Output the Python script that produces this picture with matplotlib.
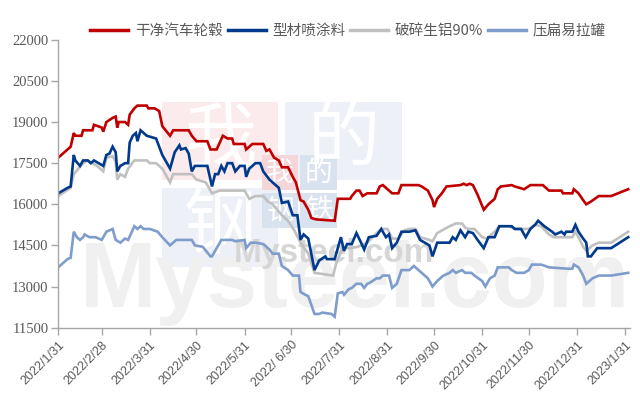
import numpy as np
import pandas as pd
import matplotlib
matplotlib.use('Agg')
import matplotlib.pyplot as plt
from matplotlib.patches import Rectangle

plt.rcParams['font.family'] = ['Liberation Serif', 'Noto Sans CJK SC', 'DejaVu Sans']

# 干净汽车轮毂
red_dates = ['2022-01-31', '2022-02-08', '2022-02-10', '2022-02-11', '2022-02-15', '2022-02-16', '2022-02-22',
             '2022-02-23', '2022-02-28', '2022-03-01', '2022-03-03', '2022-03-07', '2022-03-09', '2022-03-10',
             '2022-03-11', '2022-03-15', '2022-03-17', '2022-03-18', '2022-03-21', '2022-03-23', '2022-03-29',
             '2022-03-30', '2022-04-03', '2022-04-06', '2022-04-08', '2022-04-13', '2022-04-15', '2022-04-25',
             '2022-04-27', '2022-04-30', '2022-05-07', '2022-05-09', '2022-05-13', '2022-05-17', '2022-05-20',
             '2022-05-23', '2022-05-24', '2022-05-31', '2022-06-01', '2022-06-05', '2022-06-12', '2022-06-14',
             '2022-06-16', '2022-06-19', '2022-06-22', '2022-06-24', '2022-06-28', '2022-07-01', '2022-07-03',
             '2022-07-06', '2022-07-08', '2022-07-11', '2022-07-13', '2022-07-16', '2022-07-28', '2022-07-30',
             '2022-08-07', '2022-08-08', '2022-08-11', '2022-08-13', '2022-08-15', '2022-08-18', '2022-08-24',
             '2022-08-26', '2022-08-28', '2022-09-01', '2022-09-03', '2022-09-07', '2022-09-09', '2022-09-16',
             '2022-09-20', '2022-09-22', '2022-09-26', '2022-09-29', '2022-09-30', '2022-10-02', '2022-10-05',
             '2022-10-08', '2022-10-17', '2022-10-19', '2022-10-21', '2022-10-23', '2022-10-25', '2022-10-28',
             '2022-11-01', '2022-11-04', '2022-11-08', '2022-11-10', '2022-11-12', '2022-11-19', '2022-11-21',
             '2022-11-27', '2022-12-01', '2022-12-09', '2022-12-13', '2022-12-21', '2022-12-22', '2022-12-28',
             '2022-12-29', '2023-01-01', '2023-01-04', '2023-01-06', '2023-01-09', '2023-01-14', '2023-01-22',
             '2023-02-02']
red_vals = [17700, 18100, 18600, 18500, 18500, 18700, 18700,
            18900, 18800, 18650, 19000, 19150, 19200, 18800,
            19000, 19000, 18900, 19270, 19500, 19600, 19600,
            19500, 19500, 19400, 18850, 18500, 18700, 18700,
            18500, 18300, 18300, 18000, 18000, 18500, 18400,
            18400, 18200, 18200, 18000, 18200, 18200, 17950,
            18000, 17700, 17600, 17350, 17350, 17000, 16800,
            16150, 16100, 15800, 15500, 15450, 15400, 16200,
            16200, 16300, 16500, 16500, 16300, 16400, 16400,
            16650, 16700, 16500, 16400, 16400, 16700, 16700,
            16700, 16650, 16500, 16150, 15900, 16200, 16400,
            16650, 16700, 16750, 16700, 16750, 16700, 16350,
            15800, 16000, 16200, 16550, 16650, 16700, 16650,
            16550, 16700, 16700, 16500, 16500, 16400, 16400,
            16550, 16400, 16150, 16000, 16100, 16300, 16300,
            16550]

# 型材喷涂料
blue_dates = ['2022-01-31', '2022-02-06', '2022-02-08', '2022-02-10', '2022-02-11', '2022-02-14', '2022-02-16',
              '2022-02-19', '2022-02-21', '2022-02-23', '2022-02-26', '2022-03-01', '2022-03-03', '2022-03-05',
              '2022-03-07', '2022-03-09', '2022-03-10', '2022-03-12', '2022-03-15', '2022-03-17', '2022-03-18',
              '2022-03-20', '2022-03-22', '2022-03-23', '2022-03-25', '2022-03-27', '2022-03-29', '2022-04-04',
              '2022-04-06', '2022-04-08', '2022-04-13', '2022-04-15', '2022-04-16', '2022-04-19', '2022-04-20',
              '2022-04-23', '2022-04-25', '2022-04-27', '2022-04-29', '2022-05-07', '2022-05-10', '2022-05-12',
              '2022-05-14', '2022-05-16', '2022-05-18', '2022-05-20', '2022-05-23', '2022-05-25', '2022-05-28',
              '2022-05-31', '2022-06-01', '2022-06-03', '2022-06-07', '2022-06-10', '2022-06-12', '2022-06-16',
              '2022-06-19', '2022-06-22', '2022-06-24', '2022-06-28', '2022-07-01', '2022-07-04', '2022-07-06',
              '2022-07-08', '2022-07-11', '2022-07-15', '2022-07-18', '2022-07-22', '2022-07-23', '2022-07-28',
              '2022-07-30', '2022-08-01', '2022-08-03', '2022-08-05', '2022-08-08', '2022-08-11', '2022-08-14',
              '2022-08-16', '2022-08-19', '2022-08-24', '2022-08-27', '2022-08-30', '2022-09-01', '2022-09-03',
              '2022-09-06', '2022-09-09', '2022-09-14', '2022-09-18', '2022-09-21', '2022-09-24', '2022-09-27',
              '2022-09-29', '2022-10-02', '2022-10-10', '2022-10-12', '2022-10-14', '2022-10-17', '2022-10-20',
              '2022-10-22', '2022-10-25', '2022-10-28', '2022-11-01', '2022-11-04', '2022-11-08', '2022-11-11',
              '2022-11-19', '2022-11-21', '2022-11-25', '2022-11-28', '2022-12-01', '2022-12-04', '2022-12-06',
              '2022-12-10', '2022-12-15', '2022-12-17', '2022-12-21', '2022-12-23', '2022-12-24', '2022-12-28',
              '2022-12-30', '2023-01-01', '2023-01-04', '2023-01-06', '2023-01-07', '2023-01-09', '2023-01-13',
              '2023-01-22', '2023-02-02']
blue_vals = [16400, 16600, 16650, 17800, 17600, 17400, 17600,
             17600, 17500, 17600, 17500, 17400, 17800, 17850,
             18100, 17900, 17200, 17400, 17500, 17500, 18250,
             18500, 18600, 18300, 18700, 18600, 18500, 18400,
             18100, 17800, 17300, 17700, 17900, 18150, 18000,
             18050, 17850, 17200, 17400, 17400, 16650, 17100,
             17100, 17400, 17200, 17500, 17500, 17200, 17400,
             17400, 17000, 17300, 17500, 17500, 17200, 16900,
             16750, 16600, 16050, 16100, 15600, 15600, 14700,
             14900, 14750, 13600, 13950, 14100, 14000, 14000,
             14400, 14800, 14300, 14550, 14550, 14950, 14600,
             14350, 14800, 14850, 15100, 14800, 14900, 14400,
             14600, 15000, 15000, 15050, 14700, 14600, 14500,
             14100, 14600, 14600, 14800, 14700, 15050, 14800,
             15000, 14950, 14700, 14400, 14800, 14800, 15200,
             15200, 15100, 15100, 14800, 15100, 15250, 15400,
             15200, 15000, 14900, 15000, 14900, 15000, 15000,
             15250, 15000, 14750, 14600, 14100, 14100, 14400,
             14400, 14800]

# 破碎生铝90%
gray_dates = ['2022-01-31', '2022-02-08', '2022-02-10', '2022-02-13', '2022-02-16', '2022-02-19', '2022-02-22',
              '2022-02-25', '2022-03-01', '2022-03-03', '2022-03-07', '2022-03-09', '2022-03-10', '2022-03-12',
              '2022-03-15', '2022-03-17', '2022-03-21', '2022-03-29', '2022-03-31', '2022-04-04', '2022-04-08',
              '2022-04-13', '2022-04-15', '2022-04-27', '2022-04-30', '2022-05-06', '2022-05-10', '2022-05-15',
              '2022-05-31', '2022-06-03', '2022-06-07', '2022-06-12', '2022-06-15', '2022-06-18', '2022-06-21',
              '2022-06-24', '2022-06-28', '2022-07-02', '2022-07-06', '2022-07-11', '2022-07-15', '2022-07-21',
              '2022-07-27', '2022-07-29', '2022-08-02', '2022-08-07', '2022-08-12', '2022-08-18', '2022-08-24',
              '2022-08-27', '2022-08-31', '2022-09-03', '2022-09-07', '2022-09-11', '2022-09-14', '2022-09-18',
              '2022-09-21', '2022-09-27', '2022-09-29', '2022-10-02', '2022-10-10', '2022-10-14', '2022-10-18',
              '2022-10-20', '2022-10-22', '2022-10-26', '2022-10-31', '2022-11-03', '2022-11-06', '2022-11-08',
              '2022-11-11', '2022-11-17', '2022-11-21', '2022-11-30', '2022-12-04', '2022-12-08', '2022-12-13',
              '2022-12-16', '2022-12-28', '2022-12-30', '2023-01-01', '2023-01-04', '2023-01-06', '2023-01-10',
              '2023-01-14', '2023-01-22', '2023-02-02']
gray_vals = [16300, 16600, 17100, 17300, 17500, 17600, 17500,
             17400, 17200, 17700, 17750, 17550, 16900, 17100,
             17000, 17300, 17600, 17600, 17500, 17500, 17300,
             16800, 17100, 17100, 16900, 16800, 16400, 16500,
             16500, 16200, 16300, 16300, 16100, 16000, 15800,
             15600, 15400, 15050, 14600, 14200, 13500, 13450,
             13400, 13850, 14400, 14400, 14450, 14600, 14950,
             15100, 15100, 14750, 14750, 15050, 15100, 15100,
             14800, 14700, 14650, 14950, 15200, 15300, 15300,
             15150, 15100, 15100, 14800, 14750, 14900, 15000,
             15200, 15200, 15100, 15100, 15250, 15200, 14900,
             14800, 14800, 15000, 14800, 14450, 14300, 14500,
             14600, 14600, 15000]

# 压扁易拉罐
light_dates = ['2022-01-31', '2022-02-06', '2022-02-08', '2022-02-10', '2022-02-12', '2022-02-14', '2022-02-16',
               '2022-02-17', '2022-02-20', '2022-02-24', '2022-02-28', '2022-03-03', '2022-03-07', '2022-03-09',
               '2022-03-12', '2022-03-15', '2022-03-17', '2022-03-19', '2022-03-21', '2022-03-23', '2022-03-25',
               '2022-03-27', '2022-03-31', '2022-04-05', '2022-04-08', '2022-04-13', '2022-04-17', '2022-04-27',
               '2022-04-29', '2022-05-04', '2022-05-09', '2022-05-10', '2022-05-13', '2022-05-16', '2022-05-23',
               '2022-05-25', '2022-05-31', '2022-06-01', '2022-06-04', '2022-06-07', '2022-06-12', '2022-06-16',
               '2022-06-18', '2022-06-22', '2022-06-24', '2022-06-28', '2022-07-01', '2022-07-05', '2022-07-06',
               '2022-07-09', '2022-07-11', '2022-07-15', '2022-07-18', '2022-07-20', '2022-07-26', '2022-07-28',
               '2022-07-30', '2022-08-02', '2022-08-03', '2022-08-06', '2022-08-08', '2022-08-11', '2022-08-14',
               '2022-08-16', '2022-08-18', '2022-08-20', '2022-08-24', '2022-08-26', '2022-08-28', '2022-09-01',
               '2022-09-03', '2022-09-06', '2022-09-09', '2022-09-14', '2022-09-17', '2022-09-20', '2022-09-22',
               '2022-09-26', '2022-09-29', '2022-10-02', '2022-10-06', '2022-10-10', '2022-10-12', '2022-10-14',
               '2022-10-18', '2022-10-20', '2022-10-24', '2022-10-26', '2022-10-31', '2022-11-02', '2022-11-05',
               '2022-11-08', '2022-11-10', '2022-11-17', '2022-11-19', '2022-11-22', '2022-11-27', '2022-11-30',
               '2022-12-02', '2022-12-08', '2022-12-13', '2022-12-25', '2022-12-28', '2022-12-29', '2023-01-01',
               '2023-01-04', '2023-01-06', '2023-01-10', '2023-01-14', '2023-01-22', '2023-02-02']
light_vals = [13700, 14000, 14050, 15000, 14800, 14700, 14800,
              14900, 14800, 14800, 14700, 15000, 15100, 14700,
              14600, 14750, 14700, 14950, 15200, 15100, 15200,
              15100, 15100, 15000, 14800, 14500, 14700, 14700,
              14500, 14450, 14100, 14100, 14400, 14700, 14700,
              14650, 14700, 14400, 14600, 14600, 14550, 14350,
              14200, 14200, 13750, 13600, 13400, 13400, 12800,
              12700, 12650, 12000, 12000, 12050, 12000, 11900,
              12750, 12800, 12700, 12900, 12950, 13100, 13100,
              12950, 13100, 13150, 13300, 13300, 13400, 13400,
              12950, 13100, 13600, 13600, 13750, 13600, 13500,
              13300, 13000, 13200, 13400, 13500, 13600, 13500,
              13600, 13500, 13500, 13400, 13200, 13000, 13300,
              13400, 13700, 13700, 13600, 13500, 13500, 13600,
              13800, 13800, 13700, 13650, 13650, 13800, 13700,
              13400, 13100, 13300, 13400, 13400, 13500]

series_names = ['干净汽车轮毂', '型材喷涂料', '破碎生铝90%', '压扁易拉罐']
series_colors = ['#C00000', '#003A8C', '#C0C0C0', '#7F9DCC']

tick_dates = ['2022-01-31', '2022-02-28', '2022-03-31', '2022-04-30', '2022-05-31', '2022-06-30',
              '2022-07-31', '2022-08-31', '2022-09-30', '2022-10-31', '2022-11-30', '2022-12-31',
              '2023-01-31']
tick_labels = ['2022/1/31', '2022/2/28', '2022/3/31', '2022/4/30', '2022/5/31', '2022/ 6/30',
               '2022/7/31', '2022/8/31', '2022/9/30', '2022/10/31', '2022/11/30', '2022/12/31',
               '2023/1/31']
y_ticks = [11500, 13000, 14500, 16000, 17500, 19000, 20500, 22000]

fig = plt.figure(figsize=(6.4, 4.19), dpi=100)
ax = fig.add_axes([0.091, 0.218, 0.893, 0.687])

# 水印
def px(x, y):
    return x / 640, 1 - y / 419

cjk = ['Noto Sans CJK SC', 'DejaVu Sans']
boxes = [(162, 102, 116, 78, '#FBEBEC', '我'), (285, 102, 117, 78, '#EDF1F7', '的'),
         (162, 188, 116, 79, '#EDF1F7', '钢')]
for bx, by, bw, bh, bc, ch in boxes:
    x0, y0 = px(bx, by + bh)
    fig.patches.append(Rectangle((x0, y0), bw / 640, bh / 419, transform=fig.transFigure,
                                 facecolor=bc, edgecolor='none', zorder=0))
    cx, cy = px(bx + bw / 2, by + bh / 2)
    fig.text(cx, cy, ch, family=cjk, fontsize=52, color='white', ha='center', va='center', zorder=0.5)
small = [(262, 155, 36, 35, '#F4D5D8', '我'), (300, 155, 37, 35, '#D9E2EF', '的'),
         (262, 193, 36, 35, '#D9E2EF', '钢'), (300, 193, 37, 35, '#D9E2EF', '铁')]
for bx, by, bw, bh, bc, ch in small:
    x0, y0 = px(bx, by + bh)
    fig.patches.append(Rectangle((x0, y0), bw / 640, bh / 419, transform=fig.transFigure,
                                 facecolor=bc, edgecolor='none', zorder=0))
    cx, cy = px(bx + bw / 2, by + bh / 2)
    fig.text(cx, cy, ch, family=cjk, fontsize=20, color='white', ha='center', va='center', zorder=0.5)
mx, my = px(234, 262)
fig.text(mx, my, 'Mysteel.com', family='Liberation Sans', fontweight='bold', fontsize=24,
         color='#D6D6D6', ha='left', va='baseline', zorder=0.5)
mx, my = px(80, 307)
fig.text(mx, my, 'Mysteel.com', family='Liberation Sans', fontweight='bold', fontsize=66,
         color='#F0F0F0', ha='left', va='baseline', zorder=0.4)

ax.patch.set_alpha(0)
ax.set_zorder(2)

all_dates = [red_dates, blue_dates, gray_dates, light_dates]
all_vals = [red_vals, blue_vals, gray_vals, light_vals]
order = [2, 3, 1, 0]
lines = {}
for i in order:
    ln, = ax.plot(pd.to_datetime(all_dates[i]), all_vals[i], color=series_colors[i], lw=1.9,
                  label=series_names[i], solid_joinstyle='miter')
    lines[i] = ln

ax.set_xlim(pd.Timestamp('2022-01-31'), pd.Timestamp('2023-02-03'))
ax.set_ylim(11500, 22000)
ax.set_yticks(y_ticks)
ax.set_yticklabels([str(v) for v in y_ticks])
ax.set_xticks(pd.to_datetime(tick_dates))
ax.set_xticklabels(tick_labels, rotation=45, ha='right', rotation_mode='anchor',
                   family='Liberation Sans')

for s in ['top', 'right']:
    ax.spines[s].set_visible(False)
for s in ['left', 'bottom']:
    ax.spines[s].set_color('#A6A6A6')
    ax.spines[s].set_linewidth(1.0)
ax.tick_params(axis='both', colors='#A6A6A6', length=5, width=1.0, labelcolor='#595959')
ax.tick_params(axis='y', labelsize=10.5, pad=2)
ax.tick_params(axis='x', labelsize=9, pad=3)

handles = [lines[i] for i in range(4)]
leg = fig.legend(handles, series_names, loc='center', bbox_to_anchor=(0.544, 0.926), ncol=4,
                 frameon=False, handlelength=2.6, handletextpad=0.45, columnspacing=0.35,
                 prop={'family': cjk, 'size': 10.5})
for t in leg.get_texts():
    t.set_color('#595959')
for h in leg.get_lines():
    h.set_linewidth(2.5)

fig.savefig('out.png', dpi=100)
